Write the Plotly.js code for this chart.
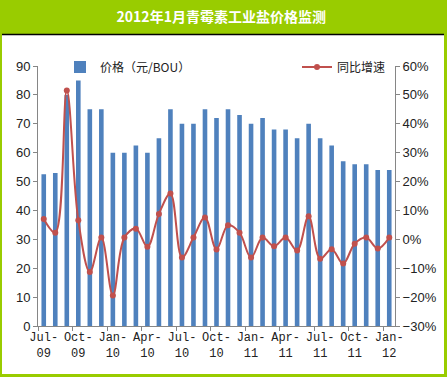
<!DOCTYPE html>
<html>
<head>
<meta charset="utf-8">
<script src="https://cdn.plot.ly/plotly-3.0.1.min.js"></script>
<style>html,body{margin:0;padding:0;background:#fff;}#chart{width:447px;height:377px;}</style>
</head>
<body>
<div id="chart"></div>
<script>
// ---- data ----
const months = ['Jul-09','Aug-09','Sep-09','Oct-09','Nov-09','Dec-09','Jan-10','Feb-10','Mar-10','Apr-10','May-10','Jun-10',
                'Jul-10','Aug-10','Sep-10','Oct-10','Nov-10','Dec-10','Jan-11','Feb-11','Mar-11','Apr-11','May-11','Jun-11',
                'Jul-11','Aug-11','Sep-11','Oct-11','Nov-11','Dec-11','Jan-12'];
const price = [52.5, 53, 80, 85, 75, 75, 60, 60, 62.5, 60, 65, 75,
               70, 70, 75, 72, 75, 73, 70, 72, 68, 68, 65, 70,
               65, 62.5, 57, 56, 56, 54, 54];
const yoyPct = [7, 2.3, 51.5, 6.6, -11.3, 0.6, -19.4, 0.6, 3.7, -2.6, 8.8, 15.9,
                -6.3, 0.6, 7.6, -3.5, 4.9, 2.3, -6.3, 0.6, -2.4, 0.6, -3.9, 8.0,
                -6.7, -3.4, -8.4, -1.5, 0.6, -3.2, 0.6];
const tickIdx = [0, 3, 6, 9, 12, 15, 18, 21, 24, 27, 30];
const tickLabels = ['Jul-<br>09','Oct-<br>09','Jan-<br>10','Apr-<br>10','Jul-<br>10','Oct-<br>10',
                    'Jan-<br>11','Apr-<br>11','Jul-<br>11','Oct-<br>11','Jan-<br>12'];
const seriesNames = ['价格（元/BOU）', '同比增速'];
const chartTitle = '2012年1月青霉素工业盐价格监测';

// ---- layout helpers ----
const W = 447, H = 377;
const M = {l: 38, r: 52, t: 66, b: 51};
const pw = W - M.l - M.r, ph = H - M.t - M.b;
const px = v => (v - M.l) / pw;
const py = v => (H - M.b - v) / ph;
const GREEN = '#99cc00';
const AX = '#868686';
const idx = months.map((m, i) => i);

const traces = [
  {type: 'bar', x: idx, y: price, name: seriesNames[0], marker: {color: '#4f81bd', line: {width: 0}},
   yaxis: 'y', legend: 'legend', text: months, textposition: 'none', hoverinfo: 'text+y'},
  {type: 'scatter', mode: 'lines+markers', x: idx, y: yoyPct.map(v => v / 100), name: seriesNames[1],
   yaxis: 'y2', legend: 'legend2',
   line: {color: '#c0504d', width: 2, shape: 'spline', smoothing: 1},
   marker: {color: '#c0504d', size: 6, symbol: 'circle'}}
];

const layout = {
  width: W, height: H,
  margin: M,
  paper_bgcolor: GREEN,
  plot_bgcolor: '#ffffff',
  bargap: 0.6,
  showlegend: true,
  title: {text: '<b>' + chartTitle + '</b>', x: 0.495, xanchor: 'center', y: 1 - 17 / H, yanchor: 'middle',
          yref: 'container', font: {family: 'Noto Sans CJK SC', size: 14, color: '#ffffff'}},
  font: {family: 'Noto Sans CJK SC', color: '#222'},
  xaxis: {
    range: [-0.5, 30.5], showgrid: false, zeroline: false,
    showline: true, linecolor: AX, linewidth: 1,
    tickmode: 'array', tickvals: tickIdx, ticktext: tickLabels, ticks: '',
    tickfont: {family: 'Liberation Mono', size: 12, color: '#222'},
    minor: {tickmode: 'array', tickvals: tickIdx.map(v => v - 0.5), ticks: 'outside', ticklen: 4, tickcolor: AX, tickwidth: 1, showgrid: false},
    fixedrange: true
  },
  yaxis: {
    range: [0, 90], dtick: 10, showgrid: false, zeroline: false,
    showline: true, linecolor: AX, linewidth: 1,
    ticks: 'outside', ticklen: 4, tickcolor: AX,
    tickfont: {family: 'Liberation Sans', size: 13, color: '#222'}
  },
  yaxis2: {
    overlaying: 'y', side: 'right', range: [-0.30, 0.60], dtick: 0.1, tickformat: '.0%',
    showgrid: false, zeroline: false, showline: true, linecolor: AX, linewidth: 1,
    ticks: 'outside', ticklen: 4, tickcolor: AX,
    tickfont: {family: 'Liberation Sans', size: 13, color: '#222'}
  },
  legend: {x: px(60), xanchor: 'left', y: py(67), yanchor: 'middle', orientation: 'h',
           bgcolor: 'rgba(0,0,0,0)', font: {family: 'Noto Sans CJK SC', size: 12, color: '#222'}},
  legend2: {x: px(297), xanchor: 'left', y: py(67), yanchor: 'middle', orientation: 'h',
            bgcolor: 'rgba(0,0,0,0)', font: {family: 'Noto Sans CJK SC', size: 12, color: '#222'}},
  shapes: [
    {type: 'rect', xref: 'paper', yref: 'paper', x0: px(2), x1: px(444), y0: py(374), y1: py(34.5),
     fillcolor: '#ffffff', line: {width: 0}, layer: 'below'},
    {type: 'line', xref: 'paper', yref: 'paper', x0: px(2), x1: px(444), y0: py(34.5), y1: py(34.5),
     line: {color: '#000000', width: 1.5}, layer: 'below'}
  ]
};

Plotly.newPlot('chart', traces, layout, {displayModeBar: false, staticPlot: true});
</script>
</body>
</html>
